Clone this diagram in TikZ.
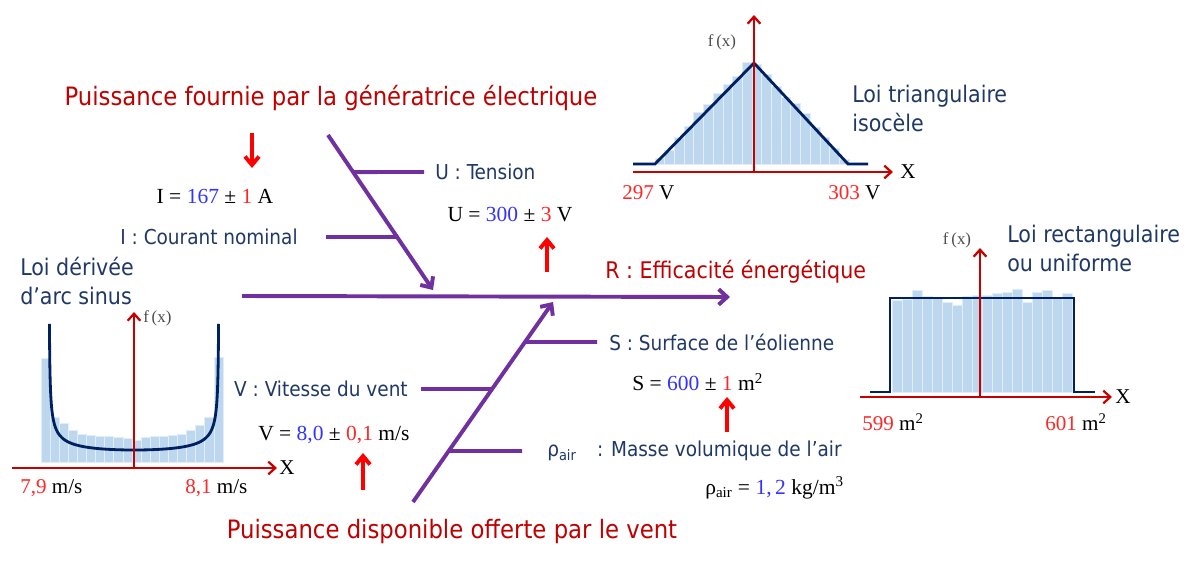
\documentclass[tikz,border=0pt]{standalone}
\usepackage{fontspec}
\setmainfont{DejaVu Sans Condensed}
\newfontfamily\numfont{Liberation Serif}
\usetikzlibrary{arrows.meta, calc, positioning}
\definecolor{fishpurple}{RGB}{112,48,160}
\definecolor{titlered}{RGB}{192,0,0}
\definecolor{hintred}{RGB}{255,0,0}
\definecolor{labelblue}{RGB}{31,56,100}
\definecolor{curvenavy}{RGB}{0,32,96}
\definecolor{barblue}{RGB}{189,215,238}
\definecolor{numblue}{RGB}{51,51,255}
\definecolor{numred}{RGB}{255,40,40}
\definecolor{axisred}{RGB}{200,0,0}
\newcommand{\valb}[1]{\textcolor{numblue}{#1}}
\newcommand{\valr}[1]{\textcolor{numred}{#1}}
\tikzset{x=0.025cm, y=-0.025cm, % one unit = one pixel of the reference
bone/.style={ % spine and bones of the fishbone
draw=fishpurple, line width=2.8pt,
-{Straight Barb[length=6pt,width=11pt]}},
twig/.style={draw=fishpurple, line width=2.8pt}, % small branches
hint/.style={draw=hintred, line width=2.8pt, % red pointers
-{Straight Barb[length=6pt,width=10pt]}},
axis/.style={draw=axisred, line width=1.6pt,
-{Straight Barb[length=5pt,width=9pt]}},
curve/.style={draw=curvenavy, line width=2pt},
bar/.style={fill=barblue, draw=white!55!barblue, line width=0.5pt},
head/.style={text=titlered, font=\fontsize{18}{22}\selectfont, inner sep=0pt},
lbl/.style={text=labelblue, font=\fontsize{14.6}{17}\selectfont, inner sep=0pt},
law/.style={text=labelblue, font=\fontsize{16.3}{20.6}\selectfont, align=left, inner sep=0pt},
val/.style={font=\numfont\fontsize{15.3}{18}\selectfont, inner sep=0pt},
tick/.style={font=\numfont\fontsize{15}{17}\selectfont, inner sep=0pt},
fx/.style={text=black!70, font=\numfont\fontsize{12}{14}\selectfont, inner sep=0pt}}

\begin{document}
\begin{tikzpicture}
    \useasboundingbox (0,0) rectangle (1200,565);

    % triangular law
    \foreach \h [count=\i from 0] in {6,14,27,38,52,60,71,80,88,102,100,90,78,67,61,51,37,27,16,5}
        \path[bar] ({655+9.7*\i},164) rectangle ++(9.7,-\h);
    \draw[curve] (633,164) -- (655,164) -- (754,63) -- (848,164) -- (868,164);
    \draw[axis] (633,172) -- (893,172);
    \draw[axis] (754,172) -- (754,15);
    \node[fx] (fxT) at (722,42) {f\,(x)};
    \node[tick] (xT) at (908,172) {X};
    \node[tick, anchor=west] (t297) at (622,193) {\valr{297} V};
    \node[tick, anchor=west] (t303) at (828,193) {\valr{303} V};
    \node[law, anchor=west] (lawT) at (852,108) {Loi triangulaire\\isocèle};

    % arc sine law
    \foreach \h [count=\i from 0] in {104,45,39,32,28,27,26,26,25,24,22,25,26,26,27,28,32,37,45,105}
        \path[bar] ({41+9.1*\i},462) rectangle ++(9.1,-\h);
    \draw[curve] plot[domain=-84.3:84.3, samples=90, smooth]
        ({134+85*sin(\x)},{450-13.9*(1/cos(\x)-1)});
    \draw[axis] (12,468) -- (277,468);
    \draw[axis] (134,468) -- (134,312);
    \node[fx, anchor=west] (fxA) at (143,318) {f\,(x)};
    \node[tick] (xA) at (287,468) {X};
    \node[tick, anchor=west] (t79) at (20,488) {\valr{7,9} m/s};
    \node[tick, anchor=west] (t81) at (185,488) {\valr{8,1} m/s};
    \node[law, anchor=west] (lawA) at (20,281) {Loi dérivée\\d’arc sinus};

    % rectangular law
    \foreach \h [count=\i from 0] in {92,93,102,96,94,90,87,96,97,97,99,100,103,90,100,102,94,99}
        \path[bar] ({892+10*\i},392) rectangle ++(10,-\h);
    \draw[curve] (870,392) -- (890,392) -- (890,298) -- (1074,298) -- (1074,392) -- (1095,392);
    \draw[axis] (860,397) -- (1112,397);
    \draw[axis] (980,397) -- (980,248);
    \node[fx] (fxR) at (957,240) {f\,(x)};
    \node[tick] (xR) at (1123,397) {X};
    \node[tick, anchor=west] (t599) at (862,422) {\valr{599} m\textsuperscript{2}};
    \node[tick, anchor=west] (t601) at (1045,422) {\valr{601} m\textsuperscript{2}};
    \node[law, anchor=west] (lawR) at (1007,248) {Loi rectangulaire\\ou uniforme};

    % fishbone
    \coordinate (sL) at (242,296);
    \coordinate (sR) at (730,297);
    \coordinate (gTop) at (328,135);
    \coordinate (gEnd) at (433,290);
    \coordinate (vBot) at (413,502);
    \coordinate (vEnd) at (553,302);
    \draw[bone] (sL) -- (sR);
    \draw[bone] (gTop) -- (gEnd);
    \draw[bone] (vBot) -- (vEnd);

    \node[head] (PG) at (331,98) {Puissance fournie par la génératrice électrique};
    \node[head] (PV) at (452,532) {Puissance disponible offerte par le vent};
    \node[head, anchor=west, font=\fontsize{16.3}{19}\selectfont] (R) at (605,272) {R : Efficacité énergétique};

    \node[lbl, anchor=west] (U) at (435,172) {U : Tension};
    \node[lbl, anchor=east] (I) at (298,237) {I : Courant nominal};
    \node[lbl, anchor=west] (S) at (609,342) {S : Surface de l’éolienne};
    \node[lbl, anchor=east] (V) at (408,389) {V : Vitesse du vent};
    \node[lbl, anchor=west] (rho) at (547,451) {ρ\textsubscript{air}\quad: Masse volumique de l’air};

    \draw[twig] ($(gTop)!0.239!(gEnd)$) -- ($(U.west)+(-11,0)$);
    \draw[twig] ($(gTop)!0.658!(gEnd)$) -- ($(I.east)+(28,0)$);
    \draw[twig] ($(vBot)!0.8!(vEnd)$) -- ($(S.west)+(-12,0)$);
    \draw[twig] ($(vBot)!0.565!(vEnd)$) -- ($(V.east)+(13,0)$);
    \draw[twig] ($(vBot)!0.255!(vEnd)$) -- ($(rho.west)+(-25,0)$);

    \node[val] (Ival) at (215,196) {I = \valb{167} ± \valr{1} A};
    \node[val] (Uval) at (510,215) {U = \valb{300} ± \valr{3} V};
    \node[val, anchor=west] (Sval) at (632,382) {S = \valb{600} ± \valr{1} m\textsuperscript{2}};
    \node[val, anchor=west] (Vval) at (258,435) {V = \valb{8,0} ± \valr{0,1} m/s};
    \node[val, anchor=west] (rhoval) at (705,488) {ρ\textsubscript{air} = \valb{1,\,2} kg/m\textsuperscript{3}};

    % red pointers
    \coordinate (pI) at (252,133);
    \coordinate (pU) at (547,272);
    \coordinate (pV) at (363,490);
    \coordinate (pS) at (727,432);
    \draw[hint] (pI) -- ++(0,35);
    \draw[hint] (pU) -- ++(0,-35);
    \draw[hint] (pV) -- ++(0,-37);
    \draw[hint] (pS) -- ++(0,-35);

\end{tikzpicture}
\end{document}
